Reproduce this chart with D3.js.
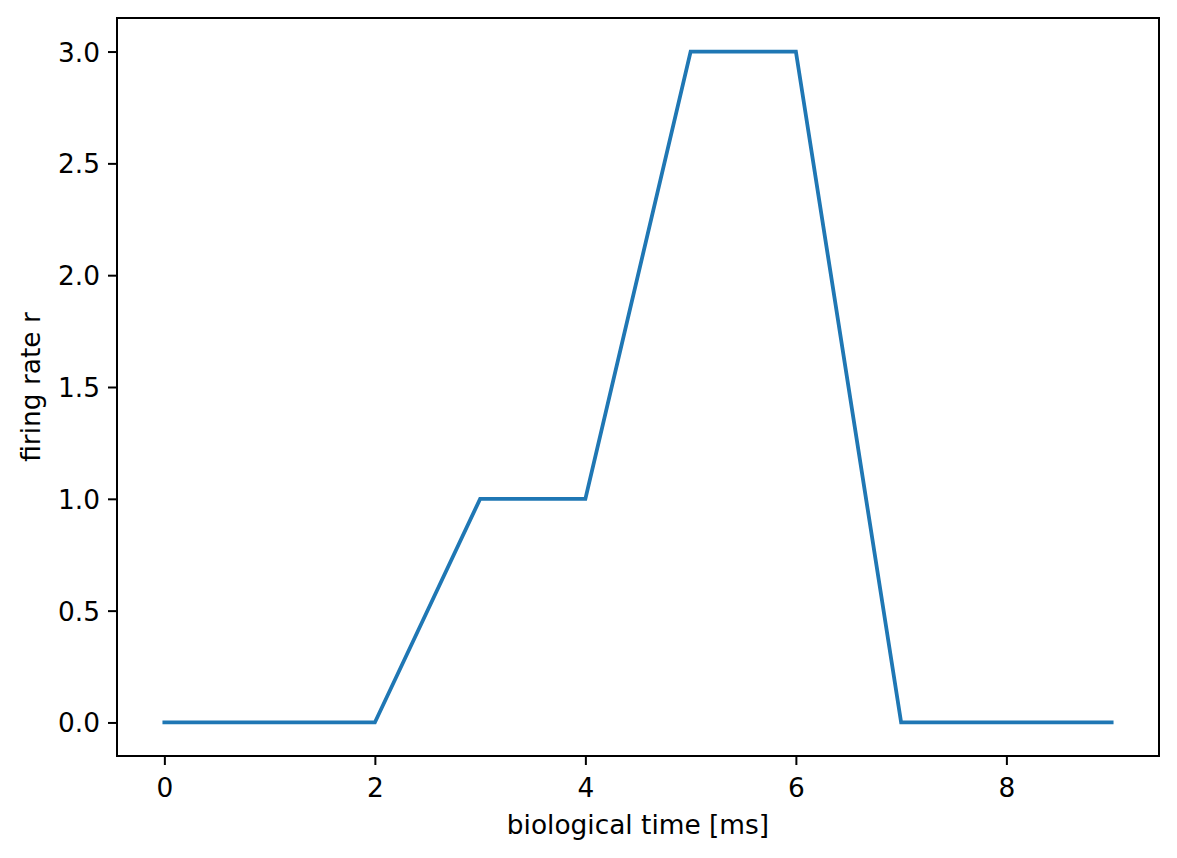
<!DOCTYPE html>
<html>
<head>
<meta charset="utf-8">
<script src="https://cdnjs.cloudflare.com/ajax/libs/d3/7.8.5/d3.min.js"></script>
<style>
  body { margin: 0; background: #fff; }
  text { font-family: "DejaVu Sans", sans-serif; fill: #000; }
</style>
</head>
<body>
<div id="chart"></div>
<script>
// data
var times = [0, 1, 2, 3, 4, 5, 6, 7, 8, 9];
var rates = [0, 0, 0, 1, 1, 3, 3, 0, 0, 0];
var xTicks = [0, 2, 4, 6, 8];
var yTicks = [0, 0.5, 1, 1.5, 2, 2.5, 3];

var W = 1177, H = 858;
var mLeft = 117, mRight = 1159, mTop = 18, mBottom = 756;
var fs = '26.4px';

var svg = d3.select('#chart').append('svg')
	.attr('width', W)
	.attr('height', H);

var x = d3.scaleLinear().domain([-0.45, 9.45]).range([mLeft, mRight]);
var y = d3.scaleLinear().domain([-0.15, 3.15]).range([mBottom, mTop]);

// line
var line = d3.line()
	.x(function(d, i){ return x(times[i]); })
	.y(function(d){ return y(d); });

svg.append('path')
	.datum(rates)
	.attr('d', line)
	.attr('fill', 'none')
	.attr('stroke', '#1f77b4')
	.attr('stroke-width', 3.8)
	.attr('stroke-linejoin', 'miter')
	.attr('stroke-linecap', 'square');

// axes
var xAxis = d3.axisBottom(x).tickValues(xTicks).tickSize(9).tickPadding(6)
	.tickFormat(d3.format('d'));
var yAxis = d3.axisLeft(y).tickValues(yTicks).tickSize(9).tickPadding(8)
	.tickFormat(d3.format('.1f'));

var gx = svg.append('g').attr('transform', 'translate(0,' + mBottom + ')').call(xAxis);
var gy = svg.append('g').attr('transform', 'translate(' + mLeft + ',0)').call(yAxis);

[gx, gy].forEach(function(g){
	g.select('.domain').remove();
	g.attr('font-size', null).attr('font-family', null);
	g.selectAll('.tick line').attr('stroke', '#000').attr('stroke-width', 2);
	g.selectAll('.tick text').attr('font-size', fs).attr('fill', '#000');
});
gx.selectAll('.tick text').attr('dy', null).attr('y', 41);
gy.selectAll('.tick text').attr('dy', '0.36em');

// frame
svg.append('rect')
	.attr('x', mLeft).attr('y', mTop)
	.attr('width', mRight - mLeft).attr('height', mBottom - mTop)
	.attr('fill', 'none').attr('stroke', '#000').attr('stroke-width', 2);

// labels
svg.append('text')
	.attr('x', (mLeft + mRight) / 2).attr('y', 834)
	.attr('text-anchor', 'middle')
	.attr('font-size', fs)
	.text('biological time [ms]');

svg.append('text')
	.attr('transform', 'translate(40,' + (mTop + mBottom) / 2 + ') rotate(-90)')
	.attr('text-anchor', 'middle')
	.attr('font-size', fs)
	.text('firing rate r');
</script>
</body>
</html>
